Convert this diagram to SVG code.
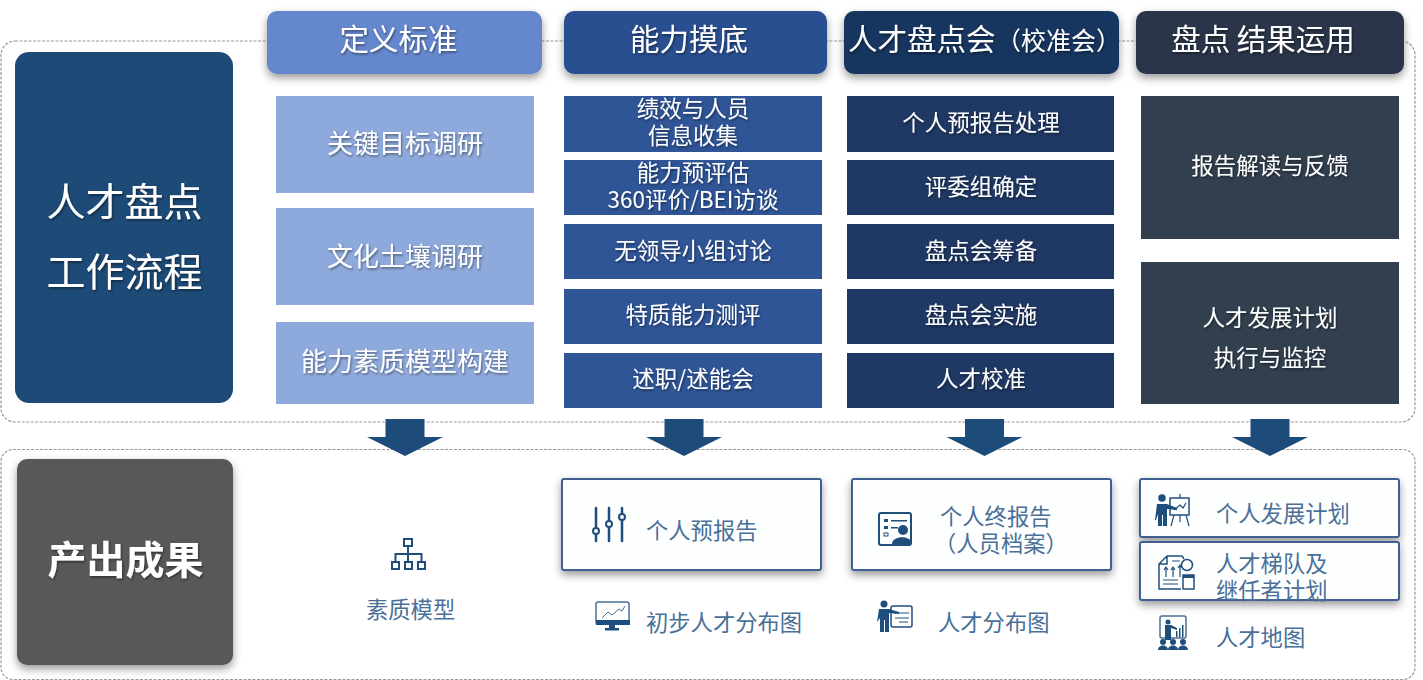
<svg xmlns="http://www.w3.org/2000/svg" width="1423" height="680" viewBox="0 0 1423 680">
<style>
text{font-family:"Noto Sans CJK SC","Liberation Sans",sans-serif;text-anchor:middle}
.lt{fill:#fff;filter:url(#ts)}
.h{font-size:29.500px}
.i1{font-size:26px}
.i{font-size:22.500px}
.o{font-size:22.300px;fill:#4a6f98;text-anchor:start}
.ic{fill:#1f4e7d}
.il{fill:none;stroke:#1f4e7d;stroke-width:2}
.dash{fill:none;stroke:#999;stroke-width:1.200;stroke-dasharray:3 1.500}
.ob{fill:#fdfefe;stroke:#3f5f92;stroke-width:2;filter:url(#bs)}
</style>
<defs>
<filter id="ts" x="-10%" y="-20%" width="120%" height="140%"><feDropShadow dx="1" dy="1.500" stdDeviation="1" flood-color="#000" flood-opacity=".45"/></filter>
<filter id="bs" x="-10%" y="-20%" width="120%" height="150%"><feDropShadow dx="0" dy="4" stdDeviation="4" flood-color="#000" flood-opacity=".4"/></filter>
<path id="arrow" d="M-19.500 419H19.500V437H38L0 456L-38 437H-19.500Z" fill="#1d4c7a"/>
</defs>

<g id="frames">
<rect class="dash" x="1" y="41" width="1414" height="381" rx="14"/>
<rect class="dash" x="1" y="449.500" width="1414" height="230" rx="12"/>
</g>

<g id="node-flow">
<rect x="15" y="52" width="218" height="351" rx="14" fill="#1d4a76"/>
<text class="lt" x="124.500" y="216" font-size="39">人才盘点</text>
<text class="lt" x="124.500" y="286" font-size="39">工作流程</text>
</g>
<g id="node-output">
<rect x="17" y="459" width="216" height="206" rx="10" fill="#595959" filter="url(#bs)"/>
<text class="lt" x="125.500" y="574" font-size="39" font-weight="700">产出成果</text>
</g>

<g id="node-h1"><rect x="267" y="11" width="275" height="63" rx="10" fill="#6587cd" filter="url(#bs)"/><text class="lt h" x="398.500" y="50">定义标准</text></g>
<g id="node-h2"><rect x="564" y="11" width="263" height="63" rx="10" fill="#2c5090" filter="url(#bs)"/><text class="lt h" x="689" y="50">能力摸底</text></g>
<g id="node-h3"><rect x="844" y="11" width="275" height="63" rx="10" fill="#17345f" filter="url(#bs)"/><text class="lt" x="848" y="50" font-size="29.500" style="text-anchor:start"><tspan>人才盘点会</tspan><tspan x="996" font-size="25">（校准会）</tspan></text></g>
<g id="node-h4"><rect x="1136" y="11" width="268" height="63" rx="10" fill="#2c3549" filter="url(#bs)"/><text class="lt h" x="1263" y="50">盘点 结果运用</text></g>

<g id="node-c1a"><rect x="276" y="96" width="258" height="97" fill="#8ea9db"/><text class="lt i1" x="405" y="153">关键目标调研</text></g>
<g id="node-c1b"><rect x="276" y="208" width="258" height="97" fill="#8ea9db"/><text class="lt i1" x="405" y="266">文化土壤调研</text></g>
<g id="node-c1c"><rect x="276" y="322" width="258" height="82" fill="#8ea9db"/><text class="lt i1" x="405" y="371">能力素质模型构建</text></g>

<g id="node-c2a"><rect x="564" y="96" width="258" height="56" fill="#2f5597"/><text class="lt i" x="693" y="117">绩效与人员</text><text class="lt i" x="693" y="144">信息收集</text></g>
<g id="node-c2b"><rect x="564" y="160" width="258" height="55" fill="#2f5597"/><text class="lt i" x="693" y="181">能力预评估</text><text class="lt i" x="693" y="208">360评价/BEI访谈</text></g>
<g id="node-c2c"><rect x="564" y="224" width="258" height="55" fill="#2f5597"/><text class="lt i" x="693" y="259">无领导小组讨论</text></g>
<g id="node-c2d"><rect x="564" y="289" width="258" height="55" fill="#2f5597"/><text class="lt i" x="693" y="323">特质能力测评</text></g>
<g id="node-c2e"><rect x="564" y="353" width="258" height="55" fill="#2f5597"/><text class="lt i" x="693" y="387">述职/述能会</text></g>

<g id="node-c3a"><rect x="847" y="96" width="267" height="56" fill="#1f3864"/><text class="lt i" x="981" y="131">个人预报告处理</text></g>
<g id="node-c3b"><rect x="847" y="160" width="267" height="55" fill="#1f3864"/><text class="lt i" x="981" y="195">评委组确定</text></g>
<g id="node-c3c"><rect x="847" y="224" width="267" height="55" fill="#1f3864"/><text class="lt i" x="981" y="259">盘点会筹备</text></g>
<g id="node-c3d"><rect x="847" y="289" width="267" height="55" fill="#1f3864"/><text class="lt i" x="981" y="323">盘点会实施</text></g>
<g id="node-c3e"><rect x="847" y="353" width="267" height="55" fill="#1f3864"/><text class="lt i" x="981" y="387">人才校准</text></g>

<g id="node-c4a"><rect x="1141" y="96" width="258" height="143" fill="#323f4f"/><text class="lt i" x="1270" y="174">报告解读与反馈</text></g>
<g id="node-c4b"><rect x="1141" y="262" width="258" height="142" fill="#323f4f"/><text class="lt i" x="1270" y="326">人才发展计划</text><text class="lt i" x="1270" y="366">执行与监控</text></g>

<g id="connectors">
<use href="#arrow" x="405"/>
<use href="#arrow" x="684"/>
<use href="#arrow" x="984.500"/>
<use href="#arrow" x="1270"/>
</g>

<g id="node-o1">
<g class="il"><rect x="404" y="539" width="8" height="7"/><rect x="392" y="562" width="7" height="7"/><rect x="405" y="562" width="7" height="7"/><rect x="418" y="562" width="7" height="7"/><path d="M408 546V562M395.500 562V554H421.500V562"/></g>
<text class="o" x="366" y="618">素质模型</text>
</g>

<g id="node-o2">
<rect class="ob" x="562" y="479" width="259" height="91" rx="2"/>
<g class="il" stroke-linecap="round" style="stroke-width:2.500"><path d="M596 508V541M609 508V541M622 508V541"/></g>
<g fill="#fff" stroke="#1f4e7d" stroke-width="2"><circle cx="596" cy="531" r="3"/><circle cx="609" cy="524" r="3"/><circle cx="622" cy="517" r="3"/></g>
<text class="o" x="646" y="539">个人预报告</text>
</g>
<g id="node-o2b">
<rect x="596" y="602" width="33" height="22" rx="2" fill="none" stroke="#4a6f98" stroke-width="1.500"/>
<rect x="596" y="620" width="34" height="5" class="ic"/><rect x="609" y="625" width="6" height="3" class="ic"/><rect x="605" y="628" width="14" height="2.500" class="ic"/>
<path d="M602 618L608 612L612 615L619 609L622 611L625 606" fill="none" stroke="#4a6f98" stroke-width="1"/>
<text class="o" x="646" y="631">初步人才分布图</text>
</g>

<g id="node-o3">
<rect class="ob" x="852" y="479" width="259" height="91" rx="2"/>
<rect x="879" y="513" width="32" height="32" rx="2" fill="none" stroke="#1f4e7d" stroke-width="2"/>
<g class="ic"><rect x="884" y="519" width="4" height="3"/><rect x="884" y="526" width="4" height="3"/><rect x="891" y="520" width="16" height="1.500"/><rect x="891" y="527" width="7" height="1.500"/><circle cx="903" cy="530" r="5"/><path d="M892 544C892 535 912 535 912 544Z"/></g>
<rect x="884" y="533" width="4" height="3" fill="none" stroke="#1f4e7d"/>
<text class="o" x="940" y="525">个人终报告</text>
<text class="o" x="934" y="552">（人员档案）</text>
</g>
<g id="node-o3b">
<g class="ic"><circle cx="884" cy="604" r="3.500"/><path d="M879 609H889L899 612V614L889 613V632H885V620H884V632H880V618L877 622Z"/></g>
<rect x="891" y="606" width="21" height="21" rx="2" fill="none" stroke="#1f4e7d" stroke-width="1.500"/>
<path d="M894 613H909M895 618H909M899 622H908" class="il" style="stroke-width:1"/>
<text class="o" x="938" y="631">人才分布图</text>
</g>

<g id="node-o4">
<rect class="ob" x="1140" y="479" width="259" height="58" rx="2"/>
<g class="ic"><circle cx="1162" cy="498" r="3.800"/><path d="M1157 504H1167L1177 508V510L1167 509V526H1163V515H1162V526H1158V514L1156 520H1155Z"/></g>
<rect x="1170" y="498" width="19" height="17" fill="none" stroke="#1f4e7d" stroke-width="1.500"/>
<path d="M1180 494V498M1174 515L1171 526M1186 515L1189 526M1180 515V522M1174 510L1180 505L1183 508L1186 503" class="il" style="stroke-width:1.200"/>
<text class="o" x="1216" y="522">个人发展计划</text>
</g>
<g id="node-o5">
<rect class="ob" x="1140" y="542" width="259" height="58" rx="2"/>
<path d="M1167 556H1182L1184 559M1167 556L1159 564V589H1181M1159 564H1167V556" fill="none" stroke="#1f4e7d" stroke-width="1.500"/>
<path d="M1164 570L1166 567L1168 570M1166 567V577M1171 570L1173 567L1175 570M1173 567V577M1178 568L1180 565L1182 568M1180 565V577M1163 580H1178M1163 584H1178M1172 561H1180" class="il" style="stroke-width:1.200"/>
<circle cx="1187" cy="565" r="5.500" fill="none" stroke="#1f4e7d" stroke-width="1.500"/>
<rect x="1183" y="575" width="11" height="14" fill="none" stroke="#1f4e7d" stroke-width="1.500"/><rect x="1183" y="575" width="11" height="3" class="ic"/>
<text class="o" x="1216" y="572">人才梯队及</text>
<text class="o" x="1216" y="599">继任者计划</text>
</g>
<g id="node-o6">
<rect x="1160" y="616" width="26" height="22" rx="2" fill="none" stroke="#4a6f98" stroke-width="1.500"/>
<g class="ic"><circle cx="1168" cy="622" r="2.500"/><path d="M1165 625H1171L1177 628V630L1171 628V640H1165Z"/><rect x="1176" y="631" width="1.500" height="6"/><rect x="1179" y="628" width="1.500" height="9"/><rect x="1182" y="625" width="1.500" height="12"/>
<circle cx="1163" cy="642" r="3"/><circle cx="1173" cy="642" r="3"/><circle cx="1183" cy="642" r="3"/><path d="M1158 650C1158 644 1168 644 1168 650ZM1168 650C1168 644 1178 644 1178 650ZM1178 650C1178 644 1188 644 1188 650Z"/></g>
<text class="o" x="1216" y="646">人才地图</text>
</g>
</svg>
